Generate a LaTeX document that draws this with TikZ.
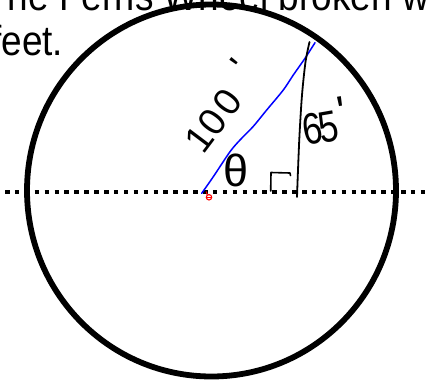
\documentclass[tikz,border=0pt]{standalone}
\usepackage{fontspec}
\setmainfont{Liberation Sans}
\newcommand{\narrowdigit}[1]{\scalebox{0.8}[1]{#1}}
\begin{document}
\begin{tikzpicture}[x=1pt,y=-1pt,
  wheel/.style={line width=5.8pt},
  dotline/.style={line width=4.5pt, dash pattern=on 4.5pt off 5.4pt},
  ink/.style={line width=1.8pt, line cap=round, line join=round},
  blueink/.style={draw=blue, line width=1.5pt, line cap=round, line join=round},
  redink/.style={draw=red, line width=1.1pt},
  hand/.style={inner sep=0pt, font=\fontsize{38}{38}\selectfont},
  title/.style={inner sep=0pt, anchor=base west, font=\fontsize{42}{42}\selectfont}]
\useasboundingbox (0,0) rectangle (426,381);
\clip (0,0) rectangle (426,381);
% heading text
\node[title] (t1) at (-15,10) {\scalebox{0.88}[1]{The Ferris Wheel broken w}};
\node[title] (t2) at (-9,55) {\scalebox{0.88}[1]{feet.}};
% dotted diameter
\coordinate (L) at (5,192);
\coordinate (R) at (432,192);
\draw[dotline] (L) -- (R);
% wheel
\coordinate (C) at (211.5,190.5);
\draw[wheel] (C) ellipse [x radius=184.5, y radius=186];
% blue radius
\draw[blueink] plot[smooth] coordinates {(201.7,193.3) (213.3,176.7) (230,151.7) (240,140) (253,126.7) (266.7,110) (283.3,90) (293.3,75) (305,58.3) (315,42.7)};
% black vertical height
\draw[ink] plot[smooth] coordinates {(309.5,42) (305.5,62) (302,95) (299.5,135) (298,170) (297,197)};
% right angle mark
\coordinate (ra1) at (270.7,191);
\coordinate (ra2) at (271,172.5);
\coordinate (ra3) at (290,173);
\coordinate (ra4) at (290.5,175.5);
\draw[ink, line width=1.6pt] (ra1) -- (ra2) -- (ra3) -- (ra4);
% labels
\node[hand, font=\fontsize{45}{45}\selectfont] (th) at (235.7,170) {θ};
\node[hand, rotate=53] (hundred) at (218.1,105.8) {10\kern4pt0\hspace{22pt}\raisebox{10pt}{\textquotesingle}};
\node[hand, font=\fontsize{44}{44}\selectfont, rotate=10] (sixtyfive) at (324.5,121.5) {\narrowdigit{6}\kern-3pt\narrowdigit{5}\kern2pt\raisebox{11.5pt}{\textquotesingle}};
% red mark
\coordinate (rm) at (209,197.3);
\draw[redink] (rm) circle[radius=2.7];
\draw[redink] (206.3,197.3) -- (211.7,197.3);
\draw[redink] (207.2,194.8) -- (206.3,191.5);
\end{tikzpicture}
\end{document}
